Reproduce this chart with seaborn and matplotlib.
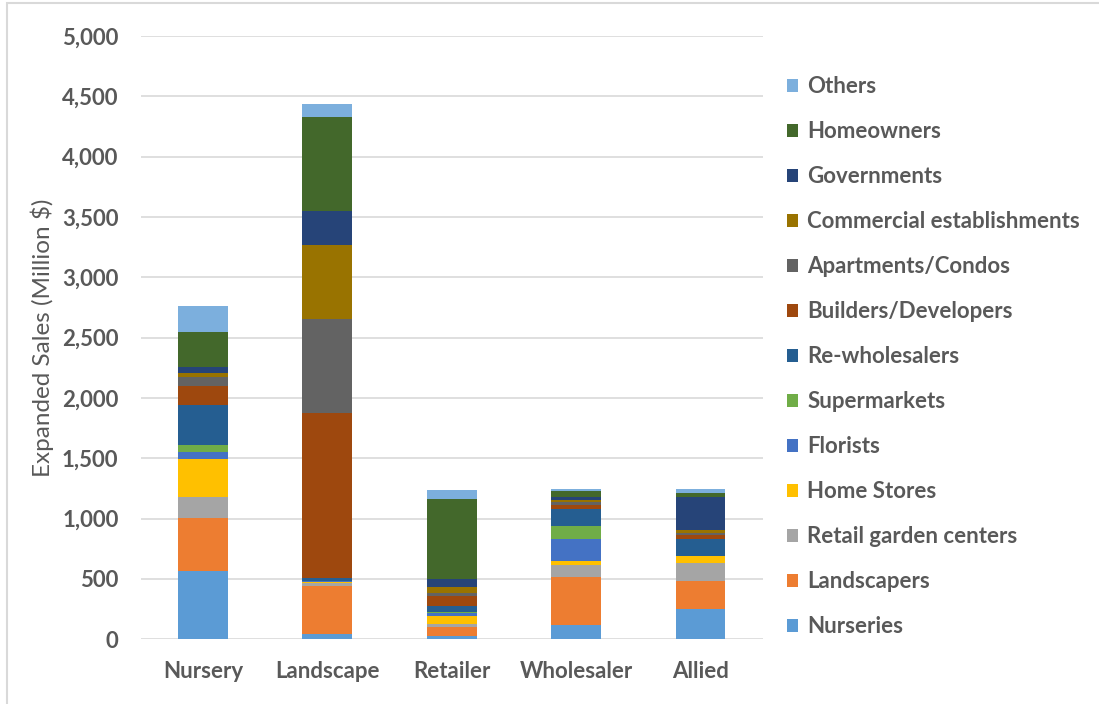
import matplotlib
matplotlib.use("Agg")
import matplotlib.pyplot as plt
from matplotlib.patches import Patch, Rectangle
import pandas as pd
import seaborn as sns

# Market channels (x axis)
categories = ["Nursery", "Landscape", "Retailer", "Wholesaler", "Allied"]

# Sales by customer type, million $ (stacked bottom to top)
nurseries = [567, 46, 27, 119, 249]
landscapers = [437, 398, 72, 395, 234]
retail_garden_centers = [171, 20, 30, 104, 147]
home_stores = [319, 8, 67, 33, 57]
florists = [61, 8, 19, 180, 3]
supermarkets = [55, 5, 11, 108, 3]
re_wholesalers = [329, 25, 53, 138, 136]
builders_developers = [161, 1362, 77, 36, 33]
apartments_condos = [75, 784, 25, 25, 22]
commercial_establishments = [33, 608, 55, 17, 22]
governments = [50, 287, 64, 27, 276]
homeowners = [290, 774, 663, 50, 33]
others = [213, 108, 74, 10, 31]

segment_names = [
    "Nurseries", "Landscapers", "Retail garden centers", "Home Stores",
    "Florists", "Supermarkets", "Re-wholesalers", "Builders/Developers",
    "Apartments/Condos", "Commercial establishments", "Governments",
    "Homeowners", "Others",
]
segment_values = [
    nurseries, landscapers, retail_garden_centers, home_stores, florists,
    supermarkets, re_wholesalers, builders_developers, apartments_condos,
    commercial_establishments, governments, homeowners, others,
]
segment_colors = [
    "#5B9BD5", "#ED7D31", "#A5A5A5", "#FFC000", "#4472C4", "#70AD47",
    "#255E91", "#9E480E", "#636363", "#997300", "#264478", "#43682B",
    "#7CAFDD",
]

y_ticks = [0, 500, 1000, 1500, 2000, 2500, 3000, 3500, 4000, 4500, 5000]

rows = []
for name, vals in zip(segment_names, segment_values):
    for cat, v in zip(categories, vals):
        rows.append({"channel": cat, "customer": name, "sales": v})
df = pd.DataFrame(rows)
df["channel"] = pd.Categorical(df["channel"], categories=categories, ordered=True)

sns.set_theme(style="white")
plt.rcParams["font.family"] = ["Lato", "DejaVu Sans"]

fig = plt.figure(figsize=(10.99, 7.04), dpi=100)
ax = fig.add_axes([0.128, 0.092, 0.566, 0.857])

# seaborn stacks the last hue level at the bottom, so pass the order top-down
hue_order = segment_names[::-1]
palette = dict(zip(segment_names, segment_colors))
sns.histplot(
    data=df, x="channel", weights="sales", hue="customer",
    hue_order=hue_order, palette=palette, multiple="stack",
    discrete=True, shrink=0.4, alpha=1, linewidth=0, legend=False, ax=ax,
)

ax.set_xlim(-0.5, len(categories) - 0.5)
ax.set_ylim(0, 5000)
ax.set_yticks(y_ticks)
ax.set_yticklabels([f"{t:,}" for t in y_ticks])
ax.set_xticks(range(len(categories)))
ax.set_xticklabels(categories)
ax.set_axisbelow(True)
ax.yaxis.grid(True, color="#D9D9D9", linewidth=1.2)
ax.xaxis.grid(False)
for s in ax.spines.values():
    s.set_visible(False)
ax.tick_params(axis="both", length=0, labelsize=16, labelcolor="#595959")
ax.tick_params(axis="y", pad=16)
ax.tick_params(axis="x", pad=16)
for lbl in ax.get_xticklabels() + ax.get_yticklabels():
    lbl.set_fontweight("bold")
ax.set_xlabel("")
ax.set_ylabel("Expanded Sales (Million $)", fontsize=17.5, color="#595959", labelpad=6)

handles = [Patch(facecolor=palette[n], edgecolor="none") for n in hue_order]
leg = fig.legend(
    handles, hue_order, loc="upper left", bbox_to_anchor=(0.698, 0.92),
    frameon=False, handlelength=0.5, handleheight=0.5, handletextpad=0.4,
    labelspacing=1.08, prop={"size": 16, "weight": "bold"},
)
for t in leg.get_texts():
    t.set_color("#595959")

# chart frame
fig.patches.append(Rectangle((7 / 1099, -0.05), 1.2, 1 - 3 / 704 + 0.05,
                             transform=fig.transFigure, fill=False,
                             edgecolor="#D9D9D9", linewidth=1.5))

fig.savefig("out.png", dpi=100)
